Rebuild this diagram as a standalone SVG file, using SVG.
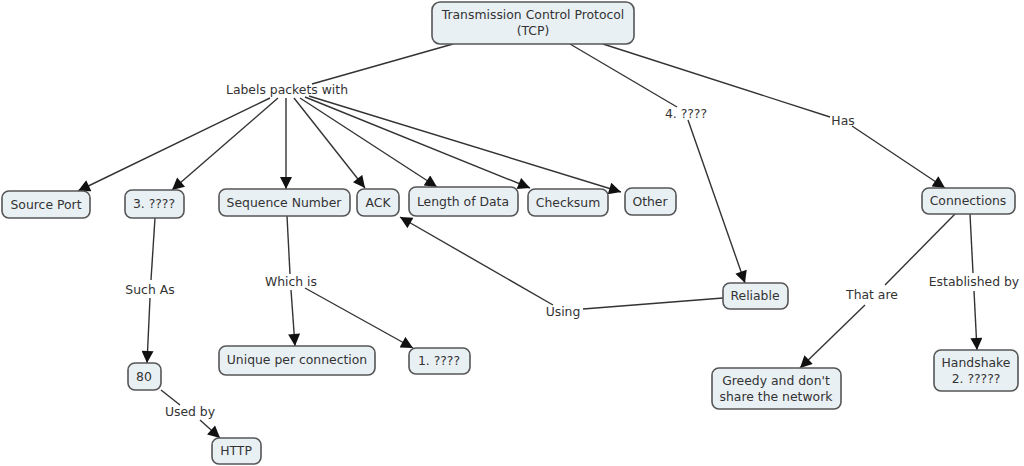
<svg xmlns="http://www.w3.org/2000/svg" width="1024" height="466" viewBox="0 0 1024 466">
<defs>
<marker id="arr" viewBox="0 0 10 10" refX="10" refY="5" markerWidth="13" markerHeight="12" markerUnits="userSpaceOnUse" orient="auto">
<path d="M0,0 L10,5 L0,10 z" fill="#111"/>
</marker>
<style>
.n rect{fill:#e9f0f4;stroke:#555;stroke-width:1.6}
text{font-family:"DejaVu Sans",Verdana,sans-serif;font-size:12.4px;fill:#333;text-anchor:middle}
.c line{stroke:#333;stroke-width:1.4;fill:none}
.c line.a{marker-end:url(#arr)}
</style>
</defs>
<rect width="1024" height="466" fill="#fff"/>
<g class="c">
<line x1="453" y1="44" x2="312" y2="84"/>
<line x1="270" y1="98" x2="78" y2="191" class="a"/>
<line x1="278" y1="98" x2="172" y2="190" class="a"/>
<line x1="286" y1="98" x2="286" y2="189" class="a"/>
<line x1="294" y1="98" x2="365" y2="188" class="a"/>
<line x1="300" y1="98" x2="437" y2="187" class="a"/>
<line x1="305" y1="97" x2="530" y2="188" class="a"/>
<line x1="309" y1="96" x2="621" y2="192" class="a"/>
<line x1="570" y1="44" x2="677" y2="107"/>
<line x1="688" y1="120" x2="745" y2="283" class="a"/>
<line x1="603" y1="44" x2="830" y2="117"/>
<line x1="852" y1="126" x2="945" y2="188" class="a"/>
<line x1="955" y1="214" x2="885" y2="285"/>
<line x1="865" y1="305" x2="800" y2="368" class="a"/>
<line x1="970" y1="214" x2="973" y2="273"/>
<line x1="974" y1="291" x2="977" y2="350" class="a"/>
<line x1="723" y1="298" x2="583" y2="309"/>
<line x1="553" y1="305" x2="400" y2="217" class="a"/>
<line x1="155" y1="218" x2="151" y2="280"/>
<line x1="150" y1="298" x2="147" y2="363" class="a"/>
<line x1="287" y1="216" x2="290" y2="274"/>
<line x1="291" y1="290" x2="295" y2="346" class="a"/>
<line x1="305" y1="288" x2="413" y2="348" class="a"/>
<line x1="161" y1="390" x2="180" y2="405"/>
<line x1="200" y1="420" x2="220" y2="438" class="a"/>
</g>
<g id="labels">
<text x="287" y="94">Labels packets with</text>
<text x="686" y="118">4. ????</text>
<text x="843" y="125">Has</text>
<text x="872" y="299">That are</text>
<text x="974" y="286">Established by</text>
<text x="563" y="316">Using</text>
<text x="150" y="294">Such As</text>
<text x="291" y="286">Which is</text>
<text x="190" y="416">Used by</text>
</g>
<g id="tcp" class="n"><rect x="432" y="2" width="202" height="42" rx="8"/><text x="533" y="19">Transmission Control Protocol</text><text x="533" y="35">(TCP)</text></g>
<g id="sourceport" class="n"><rect x="2" y="191" width="88" height="27" rx="7"/><text x="46" y="209">Source Port</text></g>
<g id="q3" class="n"><rect x="125" y="190" width="59" height="28" rx="7"/><text x="154" y="208">3. ????</text></g>
<g id="seqnum" class="n"><rect x="219" y="189" width="131" height="27" rx="7"/><text x="284" y="207">Sequence Number</text></g>
<g id="ack" class="n"><rect x="357" y="189" width="42" height="27" rx="7"/><text x="378" y="207">ACK</text></g>
<g id="length" class="n"><rect x="409" y="187" width="109" height="29" rx="7"/><text x="463" y="206">Length of Data</text></g>
<g id="checksum" class="n"><rect x="528" y="189" width="80" height="27" rx="7"/><text x="568" y="207">Checksum</text></g>
<g id="other" class="n"><rect x="625" y="188" width="51" height="27" rx="7"/><text x="650" y="206">Other</text></g>
<g id="connections" class="n"><rect x="922" y="188" width="93" height="26" rx="7"/><text x="968" y="205">Connections</text></g>
<g id="reliable" class="n"><rect x="723" y="283" width="65" height="26" rx="7"/><text x="755" y="300">Reliable</text></g>
<g id="unique" class="n"><rect x="219" y="346" width="156" height="29" rx="7"/><text x="297" y="364">Unique per connection</text></g>
<g id="q1" class="n"><rect x="409" y="348" width="61" height="26" rx="7"/><text x="439" y="365">1. ????</text></g>
<g id="p80" class="n"><rect x="128" y="363" width="33" height="27" rx="7"/><text x="144" y="381">80</text></g>
<g id="http" class="n"><rect x="212" y="438" width="49" height="26" rx="7"/><text x="236" y="455">HTTP</text></g>
<g id="handshake" class="n"><rect x="934" y="350" width="84" height="41" rx="7"/><text x="976" y="367">Handshake</text><text x="976" y="383">2. ?????</text></g>
<g id="greedy" class="n"><rect x="712" y="368" width="129" height="41" rx="7"/><text x="776" y="385">Greedy and don't</text><text x="776" y="401">share the network</text></g>
</svg>
